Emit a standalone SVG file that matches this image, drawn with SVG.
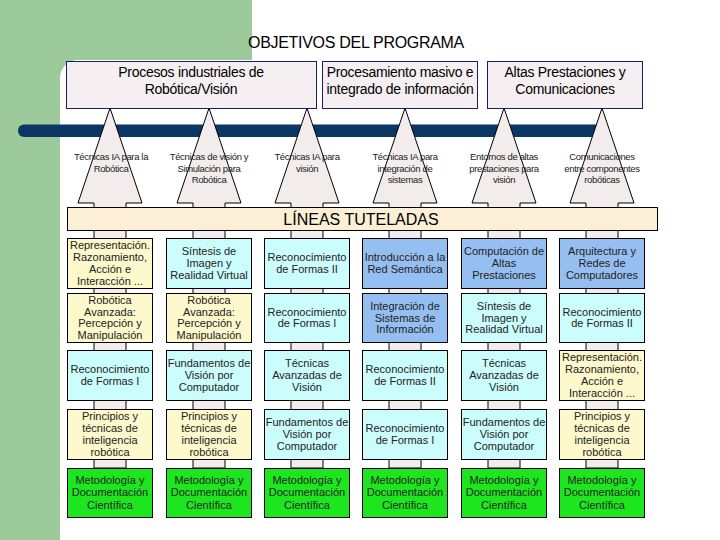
<svg xmlns="http://www.w3.org/2000/svg" width="720" height="540" viewBox="0 0 720 540">
<style>
text{font-family:"Liberation Sans",Arial,sans-serif;text-anchor:middle}
.title{font-size:16px;fill:#000;letter-spacing:-0.3px}
.hbox{fill:#f5eff2;stroke:#1c1c6c;stroke-width:1}
.htxt{font-size:14px;fill:#000;letter-spacing:-0.3px}
.arrow{fill:#f3ecec;stroke:#000;stroke-width:1}
.atxt{font-size:9.5px;fill:#222;letter-spacing:-0.35px}
.lin{fill:#fcefd6;stroke:#000;stroke-width:1}
.lintxt{font-size:16px;fill:#000}
.cell{stroke:#000;stroke-width:1}
.y{fill:#fdf9cc}.c{fill:#ccfdfd}.b{fill:#95bff0}.g{fill:#1ee61e}
.ctxt{font-size:11px;fill:#222}
</style>
<g id="background">
<rect x="0" y="0" width="720" height="540" fill="#fff"/>
<rect x="0" y="0" width="252" height="80" fill="#9dca9b"/>
<rect x="0" y="0" width="60" height="540" fill="#9dca9b"/>
<rect x="60" y="60" width="700" height="520" rx="18" fill="#fff"/>
</g>
<text class="title" x="356" y="48">OBJETIVOS DEL PROGRAMA</text>
<rect id="bar" x="18" y="124.5" width="585" height="12.5" rx="6" fill="#0a3766"/>
<g id="connectors">
<polygon class="arrow" points="110,108 142,203 126,203 126,468 94,468 94,203 78,203"/>
<polygon class="arrow" points="209,108 241,203 225,203 225,468 193,468 193,203 177,203"/>
<polygon class="arrow" points="307,108 339,203 323,203 323,468 291,468 291,203 275,203"/>
<polygon class="arrow" points="405,108 437,203 421,203 421,468 389,468 389,203 373,203"/>
<polygon class="arrow" points="504,108 536,203 520,203 520,468 488,468 488,203 472,203"/>
<polygon class="arrow" points="602,108 634,203 618,203 618,468 586,468 586,203 570,203"/>
<text class="atxt" x="111" y="160">Técnicas IA para la<tspan x="111" dy="11.5">Robótica</tspan></text>
<text class="atxt" x="209" y="160">Técnicas de visión y<tspan x="209" dy="11.5">Simulación para</tspan><tspan x="209" dy="11.5">Robótica</tspan></text>
<text class="atxt" x="307" y="160">Técnicas IA para<tspan x="307" dy="11.5">visión</tspan></text>
<text class="atxt" x="405" y="160">Técnicas IA para<tspan x="405" dy="11.5">integración de</tspan><tspan x="405" dy="11.5">sistemas</tspan></text>
<text class="atxt" x="504" y="160">Entornos de altas<tspan x="504" dy="11.5">prestaciones para</tspan><tspan x="504" dy="11.5">visión</tspan></text>
<text class="atxt" x="602" y="160">Comunicaciones<tspan x="602" dy="11.5">entre componentes</tspan><tspan x="602" dy="11.5">robóticas</tspan></text>
</g>
<g id="obj1"><rect class="hbox" x="66.5" y="61.5" width="250" height="47"/><text class="htxt" x="191" y="77">Procesos industriales de<tspan x="191" dy="17">Robótica/Visión</tspan></text></g>
<g id="obj2"><rect class="hbox" x="322.5" y="61.5" width="155" height="47"/><text class="htxt" x="400" y="77">Procesamiento masivo e<tspan x="400" dy="17">integrado de información</tspan></text></g>
<g id="obj3"><rect class="hbox" x="487.5" y="61.5" width="155" height="47"/><text class="htxt" x="565" y="77">Altas Prestaciones y<tspan x="565" dy="17">Comunicaciones</tspan></text></g>
<g id="lineas"><rect class="lin" x="67.5" y="207.5" width="590" height="23"/><text class="lintxt" x="361" y="225">LÍNEAS TUTELADAS</text></g>

<g id="c1r1"><rect class="cell y" x="67.5" y="238.5" width="85" height="50"/><text class="ctxt" x="110" y="249.3">Representación.<tspan x="110" dy="11.8">Razonamiento,</tspan><tspan x="110" dy="11.8">Acción e</tspan><tspan x="110" dy="11.8">Interacción ...</tspan></text></g>
<g id="c1r2"><rect class="cell y" x="67.5" y="293.5" width="85" height="49"/><text class="ctxt" x="110" y="303.8">Robótica<tspan x="110" dy="11.8">Avanzada:</tspan><tspan x="110" dy="11.8">Percepción y</tspan><tspan x="110" dy="11.8">Manipulación</tspan></text></g>
<g id="c1r3"><rect class="cell c" x="67.5" y="350.5" width="85" height="50"/><text class="ctxt" x="110" y="373.1">Reconocimiento<tspan x="110" dy="11.8">de Formas I</tspan></text></g>
<g id="c1r4"><rect class="cell y" x="67.5" y="409.5" width="85" height="50"/><text class="ctxt" x="110" y="420.3">Principios y<tspan x="110" dy="11.8">técnicas de</tspan><tspan x="110" dy="11.8">inteligencia</tspan><tspan x="110" dy="11.8">robótica</tspan></text></g>
<g id="c1r5"><rect class="cell g" x="67.5" y="468.5" width="85" height="49"/><text class="ctxt" x="110" y="484">Metodología y<tspan x="110" dy="12.4">Documentación</tspan><tspan x="110" dy="12.4">Científica</tspan></text></g>

<g id="c2r1"><rect class="cell c" x="166.5" y="238.5" width="85" height="50"/><text class="ctxt" x="209" y="255.2">Síntesis de<tspan x="209" dy="11.8">Imagen y</tspan><tspan x="209" dy="11.8">Realidad Virtual</tspan></text></g>
<g id="c2r2"><rect class="cell y" x="166.5" y="293.5" width="85" height="49"/><text class="ctxt" x="209" y="303.8">Robótica<tspan x="209" dy="11.8">Avanzada:</tspan><tspan x="209" dy="11.8">Percepción y</tspan><tspan x="209" dy="11.8">Manipulación</tspan></text></g>
<g id="c2r3"><rect class="cell c" x="166.5" y="350.5" width="85" height="50"/><text class="ctxt" x="209" y="367.2">Fundamentos de<tspan x="209" dy="11.8">Visión por</tspan><tspan x="209" dy="11.8">Computador</tspan></text></g>
<g id="c2r4"><rect class="cell y" x="166.5" y="409.5" width="85" height="50"/><text class="ctxt" x="209" y="420.3">Principios y<tspan x="209" dy="11.8">técnicas de</tspan><tspan x="209" dy="11.8">inteligencia</tspan><tspan x="209" dy="11.8">robótica</tspan></text></g>
<g id="c2r5"><rect class="cell g" x="166.5" y="468.5" width="85" height="49"/><text class="ctxt" x="209" y="484">Metodología y<tspan x="209" dy="12.4">Documentación</tspan><tspan x="209" dy="12.4">Científica</tspan></text></g>

<g id="c3r1"><rect class="cell c" x="264.5" y="238.5" width="85" height="50"/><text class="ctxt" x="307" y="261.1">Reconocimiento<tspan x="307" dy="11.8">de Formas II</tspan></text></g>
<g id="c3r2"><rect class="cell c" x="264.5" y="293.5" width="85" height="49"/><text class="ctxt" x="307" y="315.6">Reconocimiento<tspan x="307" dy="11.8">de Formas I</tspan></text></g>
<g id="c3r3"><rect class="cell c" x="264.5" y="350.5" width="85" height="50"/><text class="ctxt" x="307" y="367.2">Técnicas<tspan x="307" dy="11.8">Avanzadas de</tspan><tspan x="307" dy="11.8">Visión</tspan></text></g>
<g id="c3r4"><rect class="cell c" x="264.5" y="409.5" width="85" height="50"/><text class="ctxt" x="307" y="426.2">Fundamentos de<tspan x="307" dy="11.8">Visión por</tspan><tspan x="307" dy="11.8">Computador</tspan></text></g>
<g id="c3r5"><rect class="cell g" x="264.5" y="468.5" width="85" height="49"/><text class="ctxt" x="307" y="484">Metodología y<tspan x="307" dy="12.4">Documentación</tspan><tspan x="307" dy="12.4">Científica</tspan></text></g>

<g id="c4r1"><rect class="cell b" x="362.5" y="238.5" width="85" height="50"/><text class="ctxt" x="405" y="261.1">Introducción a la<tspan x="405" dy="11.8">Red Semántica</tspan></text></g>
<g id="c4r2"><rect class="cell b" x="362.5" y="293.5" width="85" height="49"/><text class="ctxt" x="405" y="309.7">Integración de<tspan x="405" dy="11.8">Sistemas de</tspan><tspan x="405" dy="11.8">Información</tspan></text></g>
<g id="c4r3"><rect class="cell c" x="362.5" y="350.5" width="85" height="50"/><text class="ctxt" x="405" y="373.1">Reconocimiento<tspan x="405" dy="11.8">de Formas II</tspan></text></g>
<g id="c4r4"><rect class="cell c" x="362.5" y="409.5" width="85" height="50"/><text class="ctxt" x="405" y="432.1">Reconocimiento<tspan x="405" dy="11.8">de Formas I</tspan></text></g>
<g id="c4r5"><rect class="cell g" x="362.5" y="468.5" width="85" height="49"/><text class="ctxt" x="405" y="484">Metodología y<tspan x="405" dy="12.4">Documentación</tspan><tspan x="405" dy="12.4">Científica</tspan></text></g>

<g id="c5r1"><rect class="cell b" x="461.5" y="238.5" width="85" height="50"/><text class="ctxt" x="504" y="255.2">Computación de<tspan x="504" dy="11.8">Altas</tspan><tspan x="504" dy="11.8">Prestaciones</tspan></text></g>
<g id="c5r2"><rect class="cell c" x="461.5" y="293.5" width="85" height="49"/><text class="ctxt" x="504" y="309.7">Síntesis de<tspan x="504" dy="11.8">Imagen y</tspan><tspan x="504" dy="11.8">Realidad Virtual</tspan></text></g>
<g id="c5r3"><rect class="cell c" x="461.5" y="350.5" width="85" height="50"/><text class="ctxt" x="504" y="367.2">Técnicas<tspan x="504" dy="11.8">Avanzadas de</tspan><tspan x="504" dy="11.8">Visión</tspan></text></g>
<g id="c5r4"><rect class="cell c" x="461.5" y="409.5" width="85" height="50"/><text class="ctxt" x="504" y="426.2">Fundamentos de<tspan x="504" dy="11.8">Visión por</tspan><tspan x="504" dy="11.8">Computador</tspan></text></g>
<g id="c5r5"><rect class="cell g" x="461.5" y="468.5" width="85" height="49"/><text class="ctxt" x="504" y="484">Metodología y<tspan x="504" dy="12.4">Documentación</tspan><tspan x="504" dy="12.4">Científica</tspan></text></g>

<g id="c6r1"><rect class="cell b" x="559.5" y="238.5" width="85" height="50"/><text class="ctxt" x="602" y="255.2">Arquitectura y<tspan x="602" dy="11.8">Redes de</tspan><tspan x="602" dy="11.8">Computadores</tspan></text></g>
<g id="c6r2"><rect class="cell c" x="559.5" y="293.5" width="85" height="49"/><text class="ctxt" x="602" y="315.6">Reconocimiento<tspan x="602" dy="11.8">de Formas II</tspan></text></g>
<g id="c6r3"><rect class="cell y" x="559.5" y="350.5" width="85" height="50"/><text class="ctxt" x="602" y="361.3">Representación.<tspan x="602" dy="11.8">Razonamiento,</tspan><tspan x="602" dy="11.8">Acción e</tspan><tspan x="602" dy="11.8">Interacción ...</tspan></text></g>
<g id="c6r4"><rect class="cell y" x="559.5" y="409.5" width="85" height="50"/><text class="ctxt" x="602" y="420.3">Principios y<tspan x="602" dy="11.8">técnicas de</tspan><tspan x="602" dy="11.8">inteligencia</tspan><tspan x="602" dy="11.8">robótica</tspan></text></g>
<g id="c6r5"><rect class="cell g" x="559.5" y="468.5" width="85" height="49"/><text class="ctxt" x="602" y="484">Metodología y<tspan x="602" dy="12.4">Documentación</tspan><tspan x="602" dy="12.4">Científica</tspan></text></g>
</svg>
